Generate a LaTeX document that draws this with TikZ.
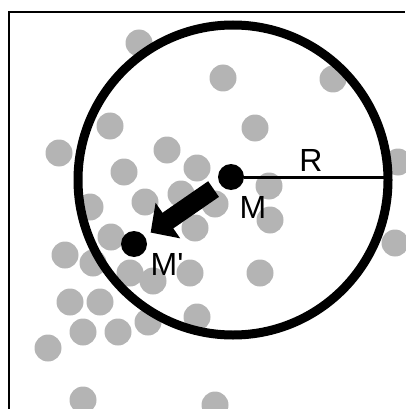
\documentclass[tikz,border=0pt]{standalone}
\usepackage{fontspec}
\setmainfont{Liberation Sans}
\usetikzlibrary{arrows.meta}

\definecolor{particlegray}{RGB}{180,180,180}
\tikzset{
    point/.style={circle, fill=black, inner sep=0pt, minimum size=26pt},
    lbl/.style={font=\fontsize{32}{34}\selectfont, inner sep=0pt},
}

\begin{document}
\begin{tikzpicture}[x=1pt, y=-1pt]
    \useasboundingbox (0,0) rectangle (405,409);

    % Frame
    \draw[line width=1.5pt] (9,409) -- (9,12) -- (405,12);

    % Gray particles
    \foreach \px/\py in {139/43, 223/78, 333/79, 110/126, 255/128, 59/153, 167/150,
        124/172, 197/168, 398/162, 269/186, 90/207, 145/202, 181/194, 215/204,
        270/220, 195/228, 111/237, 65/255, 395/243, 93/263, 130/273, 153/281,
        190/273, 260/273, 70/302, 100/302, 83/332, 118/332, 148/322, 197/317,
        48/348, 83/400, 215/405}
        \fill[particlegray] (\px,\py) circle (13.5pt);

    % Sphere of radius R around M
    \coordinate (C) at (233,180);
    \draw[line width=9pt] (C) circle (155pt);

    % Points M and M'
    \node[point] (M) at (231,177) {};
    \node[point] (Mp) at (134,244) {};
    \coordinate (E) at (388,177);
    \draw[line width=3pt] (M.east) -- (E);

    % Displacement M -> M'
    \draw[line width=19pt, -{Triangle[length=21pt, width=42pt]},
        shorten <=8pt, shorten >=7pt] (M) -- (Mp);

    % Labels
    \node[lbl] (Rlbl) at (311,160) {R};
    \node[lbl] (Mlbl) at (253,207) {M};
    \node[lbl] (Mplbl) at (167,264) {M\textquotesingle};
\end{tikzpicture}
\end{document}
